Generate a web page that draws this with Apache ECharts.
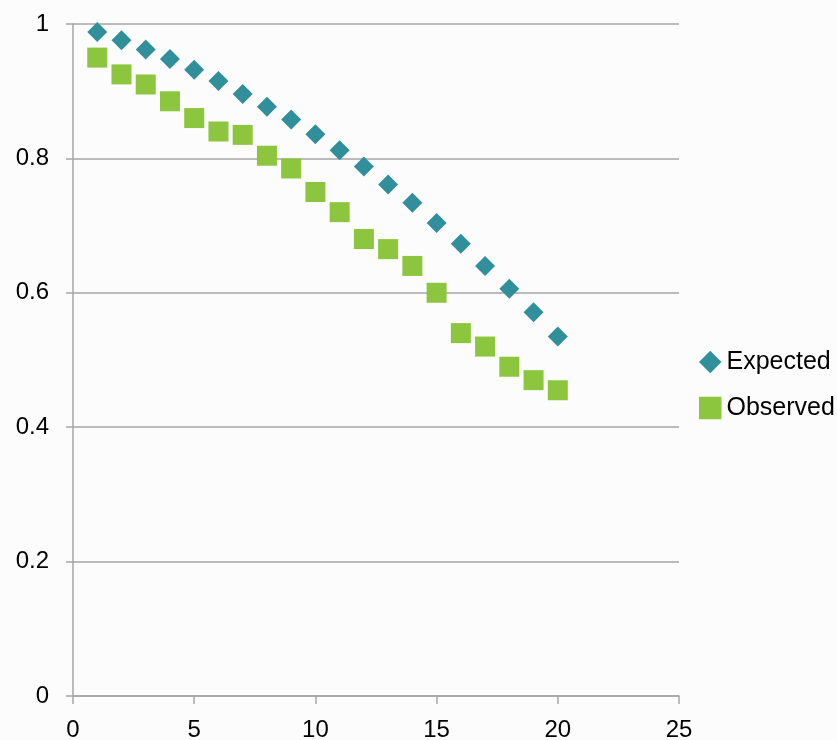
<!DOCTYPE html>
<html>
<head>
<meta charset="utf-8">
<script src="https://cdn.jsdelivr.net/npm/echarts@6/dist/echarts.min.js"></script>
<style>
  html, body { margin: 0; padding: 0; background: #fcfcfc; }
  #chart { width: 837px; height: 740px; }
</style>
</head>
<body>
<div id="chart"></div>
<script>
// Time steps on the horizontal axis
const steps = [1, 2, 3, 4, 5, 6, 7, 8, 9, 10, 11, 12, 13, 14, 15, 16, 17, 18, 19, 20];

// Series values per step
const expected = [0.988, 0.976, 0.962, 0.948, 0.932, 0.915, 0.896, 0.877, 0.858, 0.836,
                  0.812, 0.788, 0.761, 0.734, 0.704, 0.673, 0.640, 0.606, 0.571, 0.535];
const observed = [0.950, 0.925, 0.910, 0.885, 0.860, 0.840, 0.835, 0.804, 0.785, 0.750,
                  0.720, 0.680, 0.665, 0.640, 0.600, 0.540, 0.520, 0.490, 0.470, 0.455];

const seriesNames = ['Expected', 'Observed'];

const pairs = (ys) => steps.map((x, i) => [x, ys[i]]);

const axisGrey = '#a6a6a6';
const fontFamily = '"Liberation Sans", Arial, sans-serif';

const chart = echarts.init(document.getElementById('chart'), null, { renderer: 'canvas' });

chart.setOption({
  backgroundColor: '#fcfcfc',
  animation: false,
  textStyle: { fontFamily: fontFamily },
  grid: { left: 73, right: 158, top: 24, bottom: 44, containLabel: false, outerBoundsMode: 'none' },
  xAxis: {
    type: 'value',
    min: 0,
    max: 25,
    interval: 5,
    axisLine: { show: true, lineStyle: { color: axisGrey, width: 1.5 } },
    axisTick: { show: true, inside: false, length: 8, lineStyle: { color: axisGrey, width: 1.5 } },
    axisLabel: { color: '#000', fontSize: 24, margin: 22, fontFamily: fontFamily },
    splitLine: { show: false }
  },
  yAxis: {
    type: 'value',
    min: 0,
    max: 1,
    interval: 0.2,
    axisLine: { show: true, lineStyle: { color: axisGrey, width: 1.5 } },
    axisTick: { show: true, inside: false, length: 7, lineStyle: { color: axisGrey, width: 1.5 } },
    axisLabel: { color: '#000', fontSize: 24, margin: 24, fontFamily: fontFamily },
    splitLine: { show: true, lineStyle: { color: axisGrey, width: 1.5 } }
  },
  legend: {
    orient: 'vertical',
    left: 694,
    top: 344,
    itemWidth: 22.5,
    itemHeight: 22.5,
    itemGap: 20,
    textStyle: { color: '#000', fontSize: 25, lineHeight: 26, fontFamily: fontFamily },
    data: [
      { name: seriesNames[0], icon: 'diamond' },
      { name: seriesNames[1], icon: 'rect' }
    ]
  },
  series: [
    {
      name: seriesNames[0],
      type: 'scatter',
      symbol: 'diamond',
      symbolSize: 20,
      itemStyle: { color: '#318f9b', opacity: 1 },
      data: pairs(expected)
    },
    {
      name: seriesNames[1],
      type: 'scatter',
      symbol: 'rect',
      symbolSize: 20,
      itemStyle: { color: '#8cc63e', opacity: 1 },
      data: pairs(observed)
    }
  ]
});
</script>
</body>
</html>
